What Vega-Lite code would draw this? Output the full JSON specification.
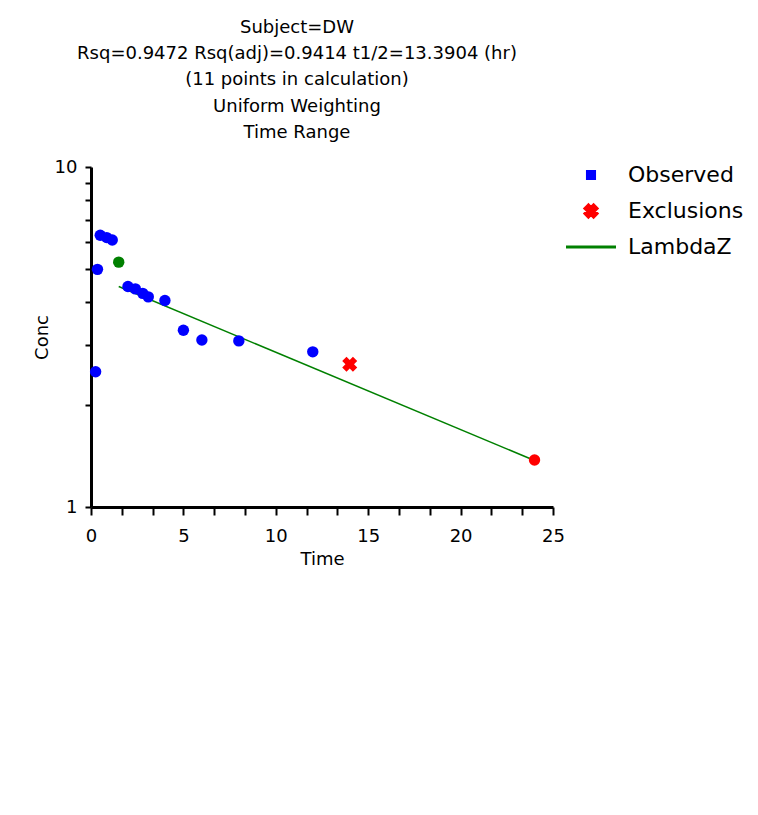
{
  "$schema": "https://vega.github.io/schema/vega-lite/v6.json",
  "autosize": {"type": "none"},
  "width": 462,
  "height": 340,
  "padding": {"left": 91, "top": 167, "right": 205, "bottom": 308},
  "background": "white",
  "config": {
    "font": "DejaVu Sans",
    "view": {"stroke": null},
    "axis": {
      "grid": false,
      "domainColor": "black",
      "domainWidth": 3,
      "tickColor": "black",
      "tickWidth": 2,
      "labelColor": "black",
      "labelFont": "DejaVu Sans",
      "labelFontSize": 18,
      "titleFont": "DejaVu Sans",
      "titleFontSize": 18,
      "titleFontWeight": "normal",
      "titleColor": "black"
    }
  },
  "title": {
    "text": ["Subject=DW", "Rsq=0.9472 Rsq(adj)=0.9414 t1/2=13.3904 (hr)", "(11 points in calculation)", "Uniform Weighting", "Time Range"],
    "font": "DejaVu Sans",
    "fontSize": 18,
    "fontWeight": "normal",
    "color": "black",
    "lineHeight": 26.3,
    "anchor": "middle",
    "frame": "group",
    "dx": -25,
    "offset": 16
  },
  "datasets": {
    "points": [
      {"t": 0.25, "c": 2.5, "type": "Observed"},
      {"t": 0.35, "c": 5.0, "type": "Observed"},
      {"t": 0.5, "c": 6.3, "type": "Observed"},
      {"t": 0.85, "c": 6.2, "type": "Observed"},
      {"t": 1.15, "c": 6.1, "type": "Observed"},
      {"t": 1.5, "c": 5.25, "type": "Start"},
      {"t": 2.0, "c": 4.45, "type": "Observed"},
      {"t": 2.4, "c": 4.38, "type": "Observed"},
      {"t": 2.8, "c": 4.25, "type": "Observed"},
      {"t": 3.1, "c": 4.15, "type": "Observed"},
      {"t": 4.0, "c": 4.05, "type": "Observed"},
      {"t": 5.0, "c": 3.31, "type": "Observed"},
      {"t": 6.0, "c": 3.1, "type": "Observed"},
      {"t": 8.0, "c": 3.08, "type": "Observed"},
      {"t": 12.0, "c": 2.86, "type": "Observed"},
      {"t": 24.0, "c": 1.375, "type": "End"}
    ],
    "exclusions": [
      {"t": 14.0, "c": 2.63, "type": "Exclusions"}
    ],
    "lambdaz": [
      {"t": 1.5, "c": 4.45, "type": "LambdaZ"},
      {"t": 24.0, "c": 1.37, "type": "LambdaZ"}
    ]
  },
  "encoding": {
    "x": {
      "field": "t",
      "type": "quantitative",
      "title": "Time",
      "scale": {"domain": [0, 25], "nice": false},
      "axis": {
        "values": [0, 1.6667, 3.3333, 5, 6.6667, 8.3333, 10, 11.6667, 13.3333, 15, 16.6667, 18.3333, 20, 21.6667, 23.3333, 25],
        "labelExpr": "abs(datum.value - round(datum.value / 5) * 5) < 0.01 ? format(round(datum.value), 'd') : ''",
        "tickSize": 8,
        "labelPadding": 12,
        "titlePadding": 5,
        "labelFlush": false,
        "labelOverlap": false
      }
    },
    "y": {
      "field": "c",
      "type": "quantitative",
      "title": "Conc",
      "scale": {"type": "log", "domain": [1, 10], "nice": false},
      "axis": {
        "values": [1, 2, 3, 4, 5, 6, 7, 8, 9, 10],
        "labelExpr": "datum.value == 1 || datum.value == 10 ? format(datum.value, 'd') : ''",
        "tickSize": 6,
        "labelPadding": 8,
        "titlePadding": 3,
        "labelFlush": false,
        "labelOverlap": false
      }
    },
    "color": {
      "field": "type",
      "type": "nominal",
      "scale": {
        "domain": ["Observed", "Exclusions", "LambdaZ", "Start", "End"],
        "range": ["#0000ff", "#ff0000", "#008000", "#008000", "#ff0000"]
      },
      "legend": {
        "values": ["Observed", "Exclusions", "LambdaZ"],
        "title": null,
        "orient": "none",
        "legendX": 489,
        "legendY": -3,
        "labelFont": "DejaVu Sans",
        "labelFontSize": 22,
        "labelColor": "black",
        "labelOffset": 26,
        "symbolSize": 2500,
        "rowPadding": 12,
        "encode": {
          "symbols": {
            "update": {
              "shape": {"signal": "datum.value === 'LambdaZ' ? 'stroke' : (datum.value === 'Exclusions' ? 'cross' : 'square')"},
              "size": {"signal": "datum.value === 'LambdaZ' ? 2500 : (datum.value === 'Exclusions' ? 150 : 50)"},
              "angle": {"signal": "datum.value === 'Exclusions' ? 45 : 0"},
              "fill": {"signal": "datum.value === 'LambdaZ' ? 'transparent' : (datum.value === 'Exclusions' ? '#ff0000' : '#0000ff')"},
              "stroke": {"signal": "datum.value === 'LambdaZ' ? '#008000' : 'transparent'"},
              "strokeWidth": {"value": 3},
              "opacity": {"value": 1}
            }
          }
        }
      }
    }
  },
  "layer": [
    {
      "data": {"name": "lambdaz"},
      "mark": {"type": "line", "strokeWidth": 1.5, "clip": false}
    },
    {
      "data": {"name": "points"},
      "mark": {"type": "circle", "size": 130, "opacity": 1}
    },
    {
      "data": {"name": "exclusions"},
      "mark": {"type": "point", "shape": "cross", "angle": 45, "size": 230, "filled": true, "opacity": 1}
    }
  ]
}
